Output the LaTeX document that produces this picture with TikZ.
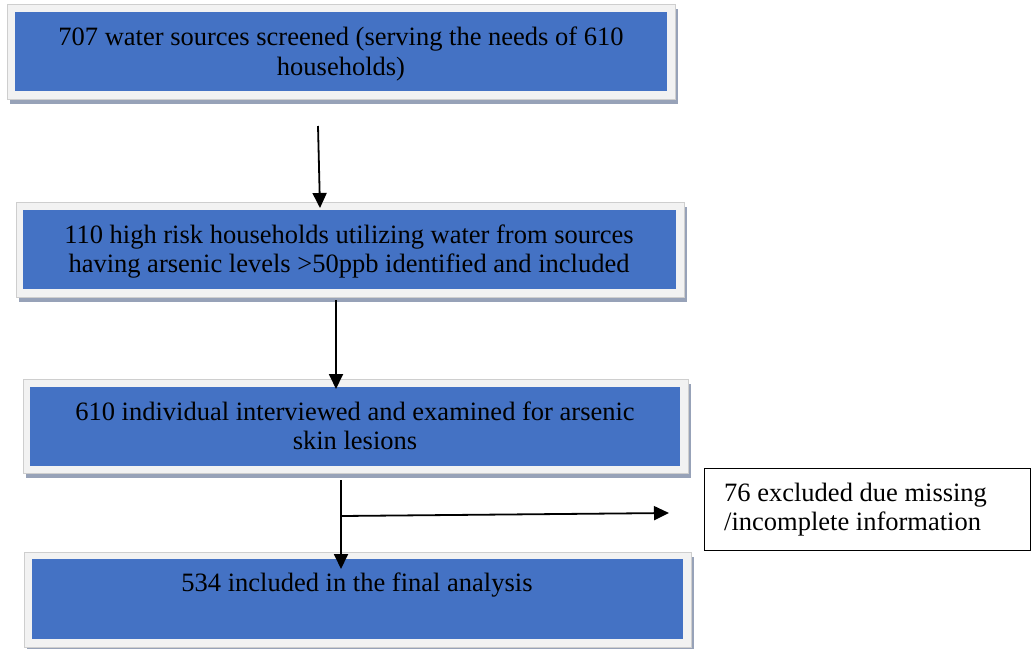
\documentclass[tikz,border=0pt]{standalone}
\usepackage{fontspec}
\setmainfont{Liberation Serif}
\usetikzlibrary{arrows.meta,calc}
\definecolor{boxblue}{HTML}{4472C4}
\definecolor{framegrey}{HTML}{F2F2F2}
\definecolor{shadowgrey}{HTML}{97A2B8}
\tikzset{
  shadowbox/.style={fill=shadowgrey,draw=none},
  framebox/.style={fill=framegrey,draw=framegrey!85!black,line width=0.3pt},
  bluebox/.style={fill=boxblue,draw=none},
  boxtext/.style={font=\fontsize{26.5}{29.5}\selectfont,align=center,inner sep=0pt,text=black},
  flowarrow/.style={line width=1.8pt,-{Triangle[length=15pt,width=14pt]}},
  notebox/.style={draw=black,line width=1.3pt,fill=white},
}
\begin{document}
\begin{tikzpicture}[x=1pt,y=-1pt]
\useasboundingbox (0,0) rectangle (1032,648);
% Box 1
\fill[shadowgrey] (10,9) rectangle (678,104);
\filldraw[framebox] (7,4) rectangle (675,99);
\node[bluebox,minimum width=652pt,minimum height=79pt,anchor=north west,inner sep=0pt] (b1) at (15,12) {};
\node[boxtext] (t1) at (341,54) {707 water sources screened (serving the needs of 610\\households)};
% Box 2
\fill[shadowgrey] (19,207) rectangle (687,302);
\filldraw[framebox] (16,202) rectangle (684,297);
\node[bluebox,minimum width=653pt,minimum height=79pt,anchor=north west,inner sep=0pt] (b2) at (23,210) {};
\node[boxtext] (t2) at (349,251.5) {110 high risk households utilizing water from sources\\having arsenic levels >50ppb identified and included};
% Box 3
\fill[shadowgrey] (26,384) rectangle (691,478);
\filldraw[framebox] (23,379) rectangle (688,473);
\node[bluebox,minimum width=650pt,minimum height=79pt,anchor=north west,inner sep=0pt] (b3) at (30,387) {};
\node[boxtext] (t3) at (355,426) {610 individual interviewed and examined for arsenic\\skin lesions};
% Box 4
\fill[shadowgrey] (27,557) rectangle (694,652);
\filldraw[framebox] (24,552) rectangle (691,647);
\node[bluebox,minimum width=651pt,minimum height=80pt,anchor=north west,inner sep=0pt] (b4) at (32,559) {};
\node[boxtext] (t4) at (357,585) {534 included in the final analysis};
% Side box
\node[notebox,minimum width=326pt,minimum height=82pt,anchor=north west,inner sep=0pt] (side) at (704,468) {};
\node[boxtext,align=left,anchor=west] (ts) at (724,509.5) {76 excluded due missing\\/incomplete information};
% Arrows
\coordinate (a1s) at (318,126);
\coordinate (a1e) at (320,208);
\coordinate (a2s) at (336,300);
\coordinate (a2e) at (336,389);
\coordinate (a3s) at (341,480);
\coordinate (a3e) at (341,569);
\coordinate (hs) at (341,516);
\coordinate (he) at (669,513);
\draw[flowarrow] (a1s) -- (a1e);
\draw[flowarrow] (a2s) -- (a2e);
\draw[flowarrow] (a3s) -- (a3e);
\draw[flowarrow] (hs) -- (he);
\end{tikzpicture}
\end{document}
